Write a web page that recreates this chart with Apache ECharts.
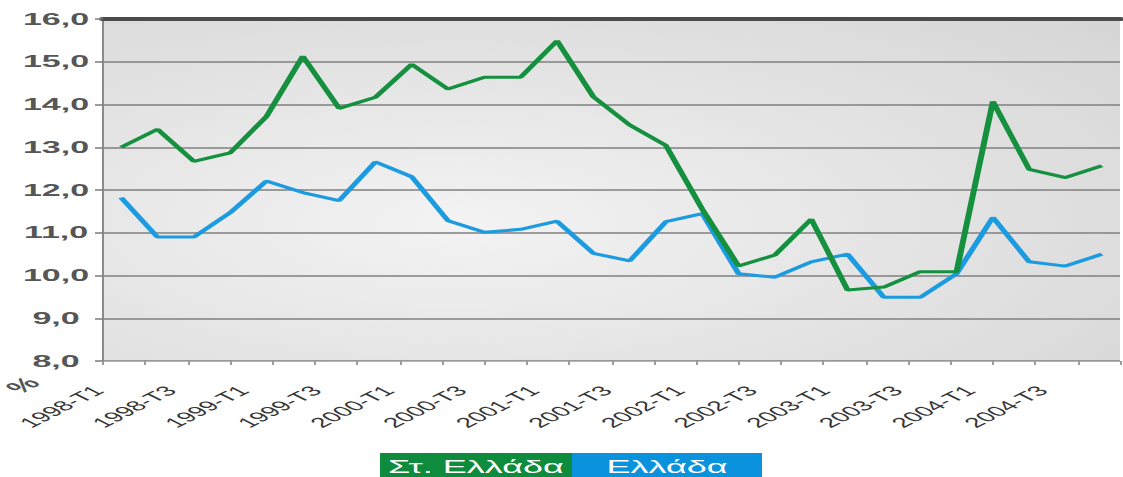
<!DOCTYPE html>
<html>
<head>
<meta charset="utf-8">
<script src="https://cdn.jsdelivr.net/npm/echarts@6/dist/echarts.min.js"></script>
<style>
html,body{margin:0;padding:0;background:#fff;overflow:hidden;width:1123px;height:477px;}
#wrap{width:1123px;height:477px;overflow:hidden;position:relative;}
#chart{position:absolute;left:0;top:0;width:561.5px;height:477px;transform:scaleX(2);transform-origin:0 0;}
</style>
</head>
<body>
<div id="wrap"><div id="chart"></div></div>
<script>
// ---- data ----
const categories = [
  '1998-T1','1998-T2','1998-T3','1998-T4',
  '1999-T1','1999-T2','1999-T3','1999-T4',
  '2000-T1','2000-T2','2000-T3','2000-T4',
  '2001-T1','2001-T2','2001-T3','2001-T4',
  '2002-T1','2002-T2','2002-T3','2002-T4',
  '2003-T1','2003-T2','2003-T3','2003-T4',
  '2004-T1','2004-T2','2004-T3','2004-T4'
];
const seriesNames = ['Στ. Ελλάδα', 'Ελλάδα'];
const stEllada = [13.0, 13.42, 12.67, 12.87, 13.72, 15.13, 13.91, 14.17, 14.94, 14.36, 14.64, 14.64, 15.49, 14.18,
                  13.52, 13.04, 11.55, 10.22, 10.48, 11.32, 9.66, 9.73, 10.09, 10.09, 14.07, 12.48, 12.29, 12.57];
const ellada   = [11.82, 10.9, 10.9, 11.47, 12.21, 11.94, 11.75, 12.66, 12.31, 11.28, 11.01, 11.08, 11.27, 10.52,
                  10.34, 11.26, 11.45, 10.04, 9.96, 10.32, 10.5, 9.49, 9.49, 10.04, 11.36, 10.32, 10.22, 10.5];
const yMin = 8, yMax = 16, yStep = 1;
const tickDivisions = 24;
const unitLabel = '%';

const FONT = '"Liberation Sans", Arial, sans-serif';
const chart = echarts.init(document.getElementById('chart'), null, {renderer: 'svg', width: 561.5, height: 477});

const option = {
  animation: false,
  backgroundColor: '#ffffff',
  grid: {
    left: 51.5, right: 1.5, top: 19, bottom: 116,
    show: true, borderWidth: 0,
    backgroundColor: new echarts.graphic.RadialGradient(0.35, 0.6, 0.95, [
      {offset: 0, color: '#f3f3f3'},
      {offset: 1, color: '#d3d3d3'}
    ])
  },
  xAxis: [
    {
      type: 'category', data: categories, boundaryGap: true, position: 'bottom',
      axisLine: {show: true, lineStyle: {color: '#b4b4b4', width: 1}},
      axisTick: {show: false},
      axisLabel: {
        interval: 1, rotate: 45, fontSize: 14, color: '#363636', fontFamily: FONT,
        margin: 16, padding: [0, 16, 0, 0]
      },
      splitLine: {show: false}
    },
    {
      type: 'value', min: 0, max: tickDivisions, interval: 1, position: 'bottom',
      axisLine: {show: false},
      axisTick: {show: true, length: 4, lineStyle: {color: '#9a9a9a', width: 1}},
      axisLabel: {show: false},
      splitLine: {show: false}
    },
    {
      type: 'category', data: categories, position: 'top',
      axisLine: {show: true, lineStyle: {color: '#4b4b4b', width: 4}},
      axisTick: {show: false},
      axisLabel: {show: false},
      splitLine: {show: false}
    }
  ],
  yAxis: {
    type: 'value', min: yMin, max: yMax, interval: yStep,
    axisLine: {show: true, lineStyle: {color: '#8a8a8a', width: 1}},
    axisTick: {show: true, length: 4, lineStyle: {color: '#7a7a7a', width: 1.5}},
    axisLabel: {
      formatter: v => v.toFixed(1).replace('.', ','),
      fontSize: 17, fontWeight: 'bold', color: '#565656', fontFamily: FONT,
      align: 'center', margin: 23.5
    },
    splitLine: {show: true, lineStyle: {color: '#7f7f7f', width: 1.5}}
  },
  series: [
    {
      name: seriesNames[1], type: 'line', data: ellada, xAxisIndex: 0,
      symbol: 'none', z: 3,
      lineStyle: {color: '#1c9be0', width: 3}, itemStyle: {color: '#1c9be0'}
    },
    {
      name: seriesNames[0], type: 'line', data: stEllada, xAxisIndex: 0,
      symbol: 'none', z: 4,
      lineStyle: {color: '#15903f', width: 3}, itemStyle: {color: '#15903f'}
    }
  ],
  graphic: [
    {type: 'rect', left: 190, top: 453, silent: true, shape: {width: 96, height: 30}, style: {fill: '#0f8b3d'}},
    {type: 'rect', left: 286, top: 453, silent: true, shape: {width: 95, height: 30}, style: {fill: '#0a93dc'}},
    {type: 'text', x: 238, y: 466.5, silent: true,
     style: {text: seriesNames[0], fill: '#ffffff', font: '18px ' + FONT,
             align: 'center', verticalAlign: 'middle', textAlign: 'center', textVerticalAlign: 'middle'}},
    {type: 'text', x: 333.5, y: 466.5, silent: true,
     style: {text: seriesNames[1], fill: '#ffffff', font: '18px ' + FONT,
             align: 'center', verticalAlign: 'middle', textAlign: 'center', textVerticalAlign: 'middle'}},
    {type: 'text', x: 11.5, y: 385.5, rotation: Math.PI / 4, silent: true,
     style: {text: unitLabel, fill: '#555555', font: 'bold 17px ' + FONT,
             align: 'center', verticalAlign: 'middle', textAlign: 'center', textVerticalAlign: 'middle'}}
  ]
};
chart.setOption(option);
</script>
</body>
</html>
